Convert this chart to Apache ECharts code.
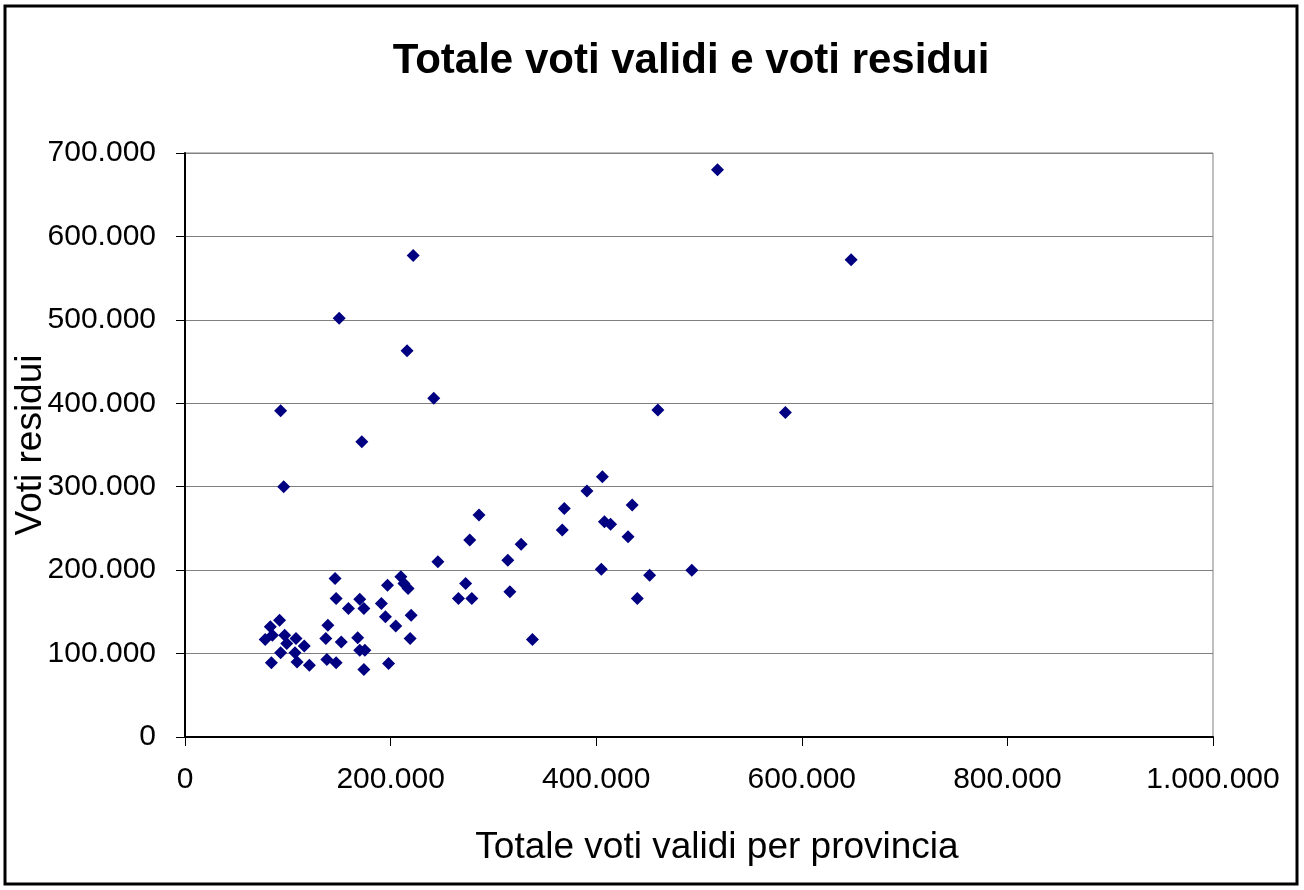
<!DOCTYPE html>
<html>
<head>
<meta charset="utf-8">
<title>Totale voti validi e voti residui</title>
<script src="https://cdn.jsdelivr.net/npm/echarts@6/dist/echarts.min.js"></script>
<style>
  html, body {
    margin: 0;
    padding: 0;
    background: #fff;
  }

  #chart {
    width: 1304px;
    height: 890px;
  }
</style>
</head>
<body>
<div id="chart"></div>
<script>
  // valori (una provincia per punto)
  var votiValidi = [
    518000, 648000, 584000, 460000, 222000, 150000, 216000, 242000, 93000, 172000,
    96000, 406000, 391000, 369000, 367000, 435000, 408000, 414000, 431000, 405000,
    452000, 440000, 493000, 286000, 277000, 327000, 314000, 246000, 273000, 266000,
    279000, 316000, 338000, 146000, 147000, 159000, 170000, 174000, 139000, 137000,
    152000, 168000, 170000, 175000, 138000, 147000, 174000, 198000, 197000, 210000,
    213000, 217000, 191000, 195000, 220000, 205000, 219000, 92000, 83000, 78000,
    85000, 97000, 99000, 108000, 116000, 107000, 93000, 84000, 109000, 121000
  ]
  var votiResidui = [
    680000, 572000, 389000, 392000, 577000, 502000, 463000, 406000, 391000, 354000,
    300000, 312000, 295000, 274000, 248000, 278000, 258000, 255000, 240000, 201000,
    194000, 166000, 200000, 266000, 236000, 231000, 212000, 210000, 184000, 166000,
    166000, 174000, 117000, 190000, 166000, 154000, 165000, 154000, 134000, 118000,
    114000, 119000, 104000, 104000, 93000, 89000, 81000, 88000, 182000, 192000,
    184000, 178000, 160000, 144000, 146000, 133000, 118000, 140000, 132000, 117000,
    122000, 122000, 112000, 118000, 109000, 101000, 101000, 89000, 90000, 86000
  ]
  var xTicks = [0, 200000, 400000, 600000, 800000, 1000000]
  var yTicks = [0, 100000, 200000, 300000, 400000, 500000, 600000, 700000]

  var font = '"Liberation Sans", Arial, sans-serif'

  function puntini (v) {
    return String(v).replace(/\B(?=(\d{3})+(?!\d))/g, '.')
  }

  var punti = votiValidi.map(function (x, i) {
    return [x, votiResidui[i]]
  })

  var chart = echarts.init(document.getElementById('chart'))
  chart.setOption({
    animation: false,
    backgroundColor: '#fff',
    title: {
      text: 'Totale voti validi e voti residui',
      left: 686,
      top: 35,
      textAlign: 'center',
      textStyle: {
        fontFamily: font,
        fontSize: 42,
        fontWeight: 'bold',
        color: '#000'
      }
    },
    graphic: [
      {
        type: 'rect',
        shape: {x: 5, y: 6, width: 1292, height: 878},
        style: {fill: null, stroke: '#000', lineWidth: 3},
        silent: true
      }
    ],
    grid: {
      left: 185,
      top: 153,
      width: 1028,
      height: 584,
      containLabel: false,
      outerBoundsMode: 'none',
      show: true,
      borderColor: '#808080',
      borderWidth: 1
    },
    xAxis: {
      type: 'value',
      min: xTicks[0],
      max: xTicks[xTicks.length - 1],
      interval: xTicks[1] - xTicks[0],
      name: 'Totale voti validi per provincia',
      nameLocation: 'middle',
      nameGap: 92,
      nameMoveOverlap: false,
      nameTextStyle: {
        fontFamily: font,
        fontSize: 37,
        color: '#000',
        padding: [0, 0, 0, 36]
      },
      axisLine: {lineStyle: {color: '#000', width: 2}},
      axisTick: {show: true, inside: false, length: 9, lineStyle: {color: '#000'}},
      axisLabel: {
        margin: 28,
        fontFamily: font,
        fontSize: 30,
        color: '#000',
        formatter: puntini
      },
      splitLine: {show: false}
    },
    yAxis: {
      type: 'value',
      min: yTicks[0],
      max: yTicks[yTicks.length - 1],
      interval: yTicks[1] - yTicks[0],
      name: 'Voti residui',
      nameLocation: 'middle',
      nameGap: 136,
      nameMoveOverlap: false,
      nameTextStyle: {
        fontFamily: font,
        fontSize: 37,
        color: '#000'
      },
      axisLine: {show: true, lineStyle: {color: '#000', width: 2}},
      axisTick: {show: true, inside: false, length: 9, lineStyle: {color: '#000'}},
      axisLabel: {
        margin: 29,
        fontFamily: font,
        fontSize: 30,
        color: '#000',
        formatter: puntini
      },
      splitLine: {show: true, lineStyle: {color: '#808080', width: 1}}
    },
    series: [
      {
        name: 'Voti residui',
        type: 'scatter',
        symbol: 'diamond',
        symbolSize: 13,
        itemStyle: {color: '#000080', opacity: 1},
        data: punti
      }
    ]
  })
</script>
</body>
</html>
